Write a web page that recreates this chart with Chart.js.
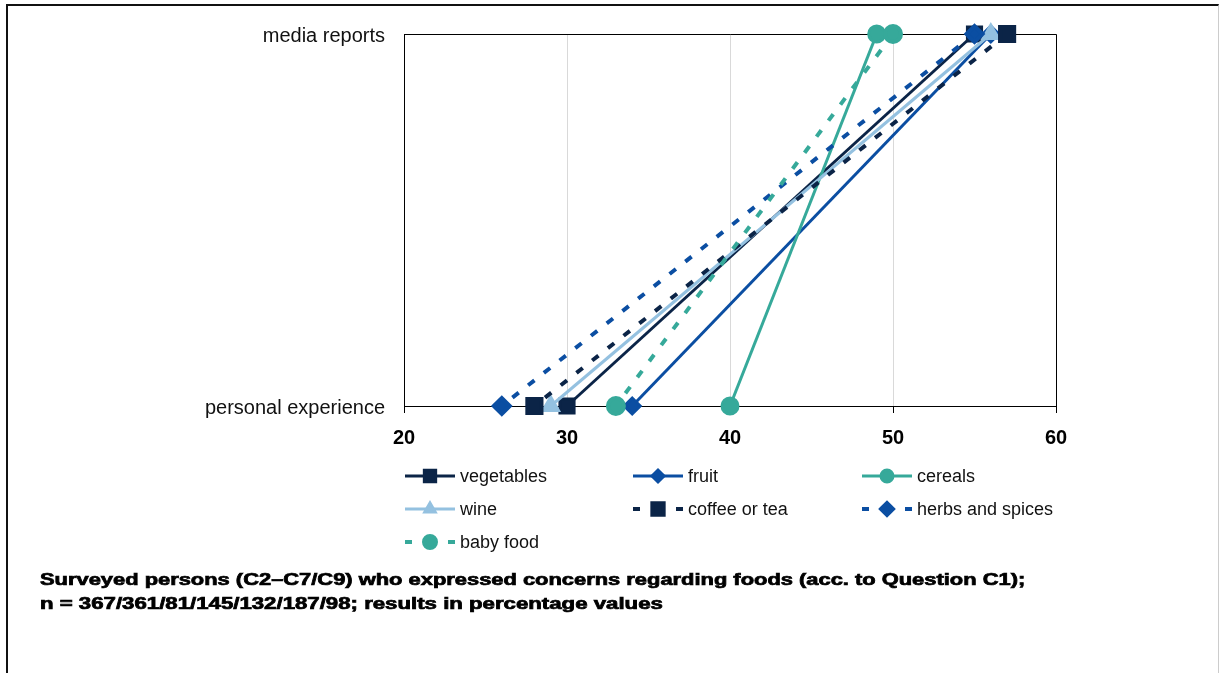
<!DOCTYPE html>
<html>
<head>
<meta charset="utf-8">
<script src="https://cdn.jsdelivr.net/npm/chart.js@4/dist/chart.umd.min.js"></script>
<style>
  html, body { margin: 0; padding: 0; background: #fff; }
  #wrap { position: relative; width: 1219px; height: 673px; overflow: hidden; }
  #frame { position: absolute; left: 6px; top: 4px; width: 1210px; height: 700px;
           border-left: 2px solid #111; border-top: 2px solid #111; border-right: 1px solid #ccc; }
  canvas { position: absolute; left: 0; top: 0; }
  .note { position: absolute; left: 40px; font: bold 16px "Liberation Sans", Arial, sans-serif;
          white-space: nowrap; transform-origin: 0 50%; color: #000; -webkit-text-stroke: 0.7px #000; }
</style>
</head>
<body>
<div id="wrap">
  <div id="frame"></div>
  <canvas id="chart" width="1219" height="673"></canvas>
  <div class="note" id="note1" style="top:571px">Surveyed persons (C2–C7/C9) who expressed concerns regarding foods (acc. to Question C1);</div>
  <div class="note" id="note2" style="top:595px">n = 367/361/81/145/132/187/98; results in percentage values</div>
</div>
<script>
"use strict";

// data
const categories = ["media reports", "personal experience"];
const seriesNames = ["vegetables", "fruit", "cereals", "wine", "coffee or tea", "herbs and spices", "baby food"];
const mediaReports = [55, 56, 49, 56, 57, 55, 50];
const personalExperience = [30, 34, 40, 29, 28, 26, 33];
const xTicks = [20, 30, 40, 50, 60];

const navy = "#0b2447";
const blue = "#0b4ea2";
const teal = "#36a99a";
const light = "#94c1e0";

const styles = [
  { color: navy, point: "rect", r: 10, dash: null },
  { color: blue, point: "rectRot", r: 8, dash: null },
  { color: teal, point: "circle", r: 8, dash: null },
  { color: light, point: "triangle", r: 9, dash: null },
  { color: navy, point: "rect", r: 10, dash: [8, 12] },
  { color: blue, point: "rectRot", r: 8, dash: [8, 12] },
  { color: teal, point: "circle", r: 8, dash: [8, 12] }
];

const datasets = seriesNames.map(function (name, i) {
  const s = styles[i];
  return {
    label: name,
    data: [mediaReports[i], personalExperience[i]],
    borderColor: s.color,
    backgroundColor: s.color,
    pointBackgroundColor: s.color,
    pointBorderColor: s.color,
    pointStyle: s.point,
    pointRadius: s.r,
    pointHoverRadius: s.r,
    borderWidth: s.dash ? 4 : 3,
    borderDash: s.dash || [],
    order: seriesNames.length - i,
    clip: false
  };
});

// plot frame (top + right edges)
const framePlugin = {
  id: "plotFrame",
  beforeDatasetsDraw(chart) {
    const a = chart.chartArea, ctx = chart.ctx;
    ctx.save();
    ctx.strokeStyle = "#000";
    ctx.lineWidth = 1;
    ctx.beginPath();
    ctx.moveTo(a.left, a.top + 0.5);
    ctx.lineTo(a.right + 0.5, a.top + 0.5);
    ctx.lineTo(a.right + 0.5, a.bottom);
    ctx.stroke();
    ctx.restore();
  }
};

// three column legend like the excel one
const legendPlugin = {
  id: "gridLegend",
  afterDraw(chart) {
    const ctx = chart.ctx;
    const cols = [405, 633, 862];
    const rows = [476, 509, 542];
    chart.data.datasets.forEach(function (ds, i) {
      const x = cols[i % 3], y = rows[Math.floor(i / 3)];
      const dashed = ds.borderDash && ds.borderDash.length;
      ctx.save();
      ctx.strokeStyle = ds.borderColor;
      ctx.lineWidth = dashed ? 4 : 3;
      ctx.beginPath();
      if (dashed) {
        ctx.moveTo(x, y); ctx.lineTo(x + 7, y);
        ctx.moveTo(x + 43, y); ctx.lineTo(x + 50, y);
      } else {
        ctx.moveTo(x, y); ctx.lineTo(x + 50, y);
      }
      ctx.stroke();
      ctx.fillStyle = ds.borderColor;
      ctx.strokeStyle = ds.borderColor;
      const r = ds.pointStyle === "rect" ? 8 : 6;
      Chart.helpers.drawPoint(ctx, { pointStyle: ds.pointStyle, radius: r, rotation: 0, borderWidth: 1 }, x + 25, y);
      ctx.fillStyle = "#111";
      ctx.font = '18px "Liberation Sans", Arial, sans-serif';
      ctx.textBaseline = "middle";
      ctx.textAlign = "left";
      ctx.fillText(ds.label, x + 55, y + 1);
      ctx.restore();
    });
  }
};

const ctx = document.getElementById("chart");

const chart = new Chart(ctx, {
  type: "line",
  data: {
    labels: categories,
    datasets: datasets
  },
  options: {
    indexAxis: "y",
    responsive: false,
    animation: false,
    layout: { padding: { left: 0, right: 163, top: 34, bottom: 223 } },
    plugins: {
      legend: { display: false },
      tooltip: { enabled: false }
    },
    scales: {
      x: {
        type: "linear",
        min: xTicks[0],
        max: xTicks[xTicks.length - 1],
        afterBuildTicks: function (axis) {
          axis.ticks = xTicks.map(function (v) { return { value: v }; });
        },
        afterFit: function (axis) { axis.height = 44; },
        grid: { color: "#d9d9d9", tickColor: "#000", tickLength: 7, lineWidth: 1 },
        border: { color: "#000", width: 1 },
        ticks: {
          color: "#000",
          padding: 13,
          font: { family: '"Liberation Sans", Arial, sans-serif', size: 20, weight: "bold" }
        }
      },
      y: {
        type: "category",
        offset: false,
        afterFit: function (axis) { axis.width = 404; },
        grid: { display: false, drawTicks: false },
        border: { color: "#000", width: 1 },
        ticks: {
          color: "#111",
          padding: 19,
          labelOffset: 2,
          font: { family: '"Liberation Sans", Arial, sans-serif', size: 20 }
        }
      }
    }
  },
  plugins: [framePlugin, legendPlugin]
});

// footnote is set in a very wide bold face; stretch to the same width
[["note1", 985], ["note2", 623]].forEach(function (n) {
  const el = document.getElementById(n[0]);
  const w = el.getBoundingClientRect().width;
  el.style.transform = "scaleX(" + (n[1] / w).toFixed(3) + ")";
});
</script>
</body>
</html>
